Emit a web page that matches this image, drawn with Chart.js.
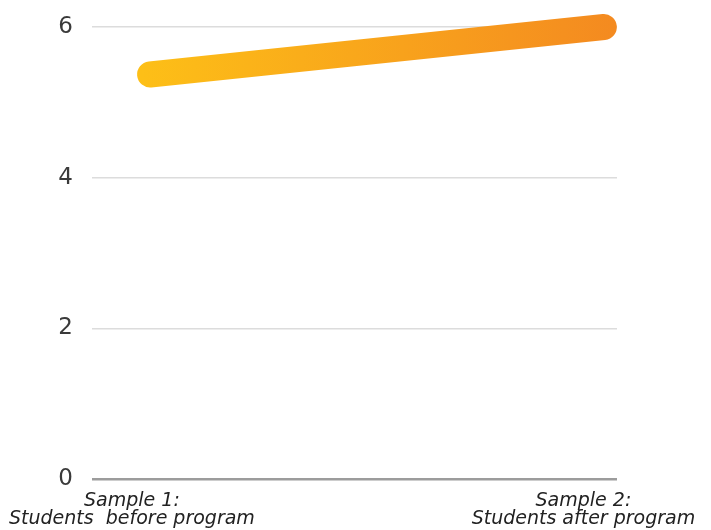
<!DOCTYPE html>
<html>
<head>
<meta charset="utf-8">
<script src="https://cdn.jsdelivr.net/npm/chart.js@4.4.1/dist/chart.umd.min.js"></script>
<style>
  html, body { margin: 0; padding: 0; background: #fff; }
  #wrap { width: 711px; height: 530px; }
</style>
</head>
<body>
<div id="wrap"><canvas id="chart" width="711" height="530"></canvas></div>
<script>
// data
const samples = [1, 2];
const scores = [5.37, 6.0];
const sampleLabels = [
  ["Sample 1:", "Students  before program"],
  ["Sample 2:", "Students after program"]
];
const labelSpots = [0.96, 1.955];
const yTicks = [0, 2, 4, 6];

const ctx = document.getElementById("chart").getContext("2d");

function lineGradient(context) {
  const area = context.chart.chartArea;
  if (!area) return "#f8a51d";
  const g = context.chart.ctx.createLinearGradient(area.left + 50, 0, area.right, 0);
  g.addColorStop(0, "#fdbf17");
  g.addColorStop(1, "#f48a20");
  return g;
}

new Chart(ctx, {
  type: "line",
  data: {
    datasets: [{
      data: samples.map((s, i) => ({ x: s, y: scores[i] })),
      borderColor: lineGradient,
      borderWidth: 26,
      borderCapStyle: "round",
      borderJoinStyle: "round",
      pointRadius: 0,
      tension: 0,
      clip: false
    }]
  },
  options: {
    responsive: false,
    animation: false,
    layout: { padding: { top: 27, right: 94, left: 0, bottom: 0 } },
    plugins: { legend: { display: false }, tooltip: { enabled: false } },
    scales: {
      x: {
        type: "linear",
        min: 0.872,
        max: 2.029,
        grid: { display: false },
        border: { display: false },
        afterBuildTicks: (scale) => { scale.ticks = labelSpots.map(v => ({ value: v })); },
        afterFit: (scale) => { scale.height = 51; scale.paddingLeft = 0; scale.paddingRight = 0; },
        ticks: {
          autoSkip: false,
          maxRotation: 0,
          padding: 5,
          color: "#222",
          font: { family: "DejaVu Sans", size: 19, style: "italic", lineHeight: 0.95 },
          callback: (v, i) => sampleLabels[i]
        }
      },
      y: {
        min: 0,
        max: 6,
        afterBuildTicks: (scale) => { scale.ticks = yTicks.map(v => ({ value: v })); },
        afterFit: (scale) => { scale.width = 92; scale.paddingTop = 0; scale.paddingBottom = 0; },
        border: { display: false },
        grid: {
          drawTicks: false,
          color: (c) => c.tick && c.tick.value === 0 ? "#9c9c9c" : "#dcdcdc",
          lineWidth: (c) => c.tick && c.tick.value === 0 ? 2.5 : 1.5
        },
        ticks: {
          padding: 19,
          color: "#3a3a3a",
          font: { family: "DejaVu Sans", size: 23 }
        }
      }
    }
  }
});
</script>
</body>
</html>
